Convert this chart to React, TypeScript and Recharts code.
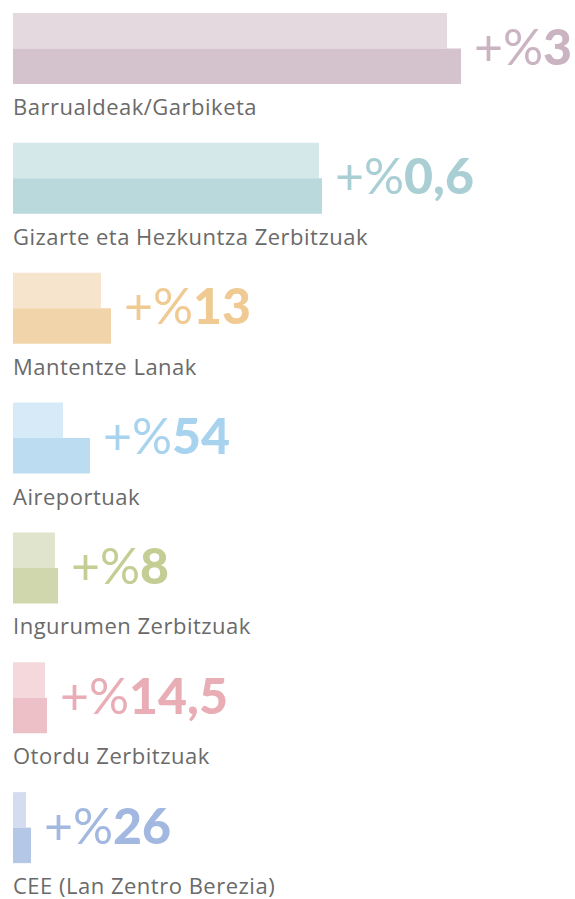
import React from "react"
import { BarChart, Bar, XAxis, YAxis, Cell, LabelList } from "recharts"

// Bar lengths (same units for both series)
const categories = [
  "Barrualdeak/Garbiketa",
  "Gizarte eta Hezkuntza Zerbitzuak",
  "Mantentze Lanak",
  "Aireportuak",
  "Ingurumen Zerbitzuak",
  "Otordu Zerbitzuak",
  "CEE (Lan Zentro Berezia)",
]
const previous = [434, 306, 88, 50, 42, 32, 13]
const current = [448, 309, 98, 77, 45, 34, 18]
const changes = ["3", "0,6", "13", "54", "8", "14,5", "26"]

const lightColors = ["#e4d9df", "#d4e7e9", "#f7e4cd", "#d6eaf7", "#e1e4cc", "#f4d8dc", "#d4ddef"]
const darkColors = ["#d4c3cd", "#b9d9dc", "#f2d4aa", "#bbdcf1", "#d0d7ad", "#ecc0c6", "#b5c7e6"]
const textColors = ["#cab4c2", "#a9cfd4", "#f0ca93", "#a8d3ef", "#c4cd93", "#e8adb5", "#a3b8e0"]

const data = categories.map((name, i) => ({
  name,
  previous: previous[i],
  current: current[i],
  change: changes[i],
}))

const CategoryLabel = (props: any) => {
  const { x, y, index } = props
  return (
    <text
      x={x}
      y={y + 102}
      fill="#6a6a6a"
      fontSize={22}
      fontFamily="'Open Sans', sans-serif"
      fontWeight={400}
      letterSpacing={0.5}
    >
      {categories[index]}
    </text>
  )
}

const ChangeLabel = (props: any) => {
  const { x, y, width, index, value } = props
  return (
    <text
      x={x + width + 13}
      y={y + 16}
      fill={textColors[index]}
      fontSize={50}
      fontFamily="Lato, sans-serif"
    >
      <tspan fontWeight={400}>+%</tspan>
      <tspan fontWeight={900}>{value}</tspan>
    </text>
  )
}

export default function App() {
  return (
    <div style={{ position: "absolute", left: 0, top: -16 }}>
      <BarChart
        width={575}
        height={925}
        data={data}
        layout="vertical"
        margin={{ top: 0, right: 0, bottom: 16, left: 13 }}
        barGap={0}
        barSize={35.5}
      >
        <XAxis type="number" hide domain={[0, 562]} />
        <YAxis type="category" dataKey="name" hide />
        <Bar dataKey="previous" isAnimationActive={false}>
          {data.map((d, i) => (
            <Cell key={d.name} fill={lightColors[i]} />
          ))}
          <LabelList dataKey="name" content={CategoryLabel} />
        </Bar>
        <Bar dataKey="current" isAnimationActive={false}>
          {data.map((d, i) => (
            <Cell key={d.name} fill={darkColors[i]} />
          ))}
          <LabelList dataKey="change" content={ChangeLabel} />
        </Bar>
      </BarChart>
    </div>
  )
}
